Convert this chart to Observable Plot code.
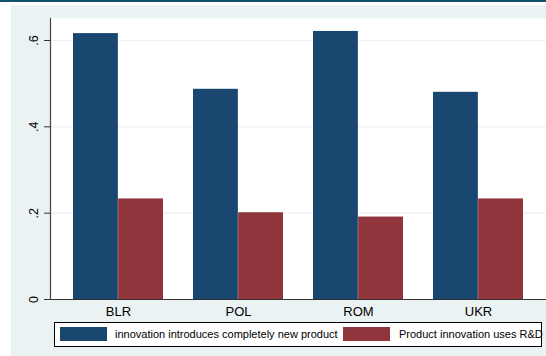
<!DOCTYPE html>
<html>
<head>
<meta charset="utf-8">
<script src="https://cdn.jsdelivr.net/npm/d3@7"></script>
<script src="https://cdn.jsdelivr.net/npm/@observablehq/plot@0.6"></script>
<style>
  html, body { margin: 0; padding: 0; background: white; }
  #wrap { position: relative; width: 546px; height: 356px; overflow: hidden; font-family: "Liberation Sans", Arial, Helvetica, sans-serif; }
  #topline { position: absolute; left: 0; top: 0; width: 546px; height: 2px; background: #12506f; }
  #bg { position: absolute; left: 11px; top: 5px; right: 0; bottom: 0; background: #eaf2f3; }
  #chart { position: absolute; left: 0; top: 0; }
  #legend { position: absolute; left: 54px; top: 322px; width: 488px; height: 25px; box-sizing: border-box; border: 1px solid #000; background: white; font-size: 11px; color: #000; }
  .sw { position: absolute; top: 4px; width: 47px; height: 14px; }
  .lt { position: absolute; top: 4px; line-height: 14px; white-space: nowrap; }
</style>
</head>
<body>
<div id="wrap">
  <div id="topline"></div>
  <div id="bg"></div>
  <div id="chart"></div>
  <div id="legend"></div>
</div>
<script>
const countries = ["BLR", "POL", "ROM", "UKR"];
const seriesNames = ["innovation introduces completely new product", "Product innovation uses R&D"];
const newProduct = [0.616, 0.487, 0.621, 0.480];
const usesRD = [0.233, 0.201, 0.191, 0.233];
const yTicks = [0, 0.2, 0.4, 0.6];
const colors = ["#1a476f", "#90353b"];

const W = 546, H = 320, mL = 50, mR = 0, mT = 18, mB = 21;
const padInner = 0.25, padOuter = 0.185;
const step = (W - mL - mR) / (countries.length - padInner + 2 * padOuter);
const half = step * (1 - padInner) / 2;

const rows1 = countries.map((c, i) => ({country: c, value: newProduct[i]}));
const rows2 = countries.map((c, i) => ({country: c, value: usesRD[i]}));

const plot = Plot.plot({
  width: W, height: H,
  marginLeft: mL, marginRight: mR, marginTop: mT, marginBottom: mB,
  style: {background: "transparent", fontFamily: "Liberation Sans, Arial, sans-serif"},
  x: {domain: countries, paddingInner: padInner, paddingOuter: padOuter, label: null},
  y: {domain: [0, 0.651], label: null},
  marks: [
    Plot.frame({fill: "white", stroke: null}),
    Plot.gridY(yTicks.filter(d => d > 0), {stroke: "#eaf2f3", strokeOpacity: 1, strokeWidth: 1.2}),
    Plot.barY(rows1, {x: "country", y: "value", fill: colors[0], insetRight: half}),
    Plot.barY(rows2, {x: "country", y: "value", fill: colors[1], insetLeft: half}),
    Plot.ruleY([0], {stroke: "#333", strokeWidth: 1.2}),
    Plot.frame({anchor: "left", stroke: "#444", strokeWidth: 1.2}),
    Plot.axisY({ticks: yTicks, tickSize: 6, tickRotate: -90, tickPadding: 7, fontSize: 12.5,
      tickFormat: d => d === 0 ? "0" : d3.format(".1f")(d).replace(/^0/, ""), stroke: "#333"}),
    Plot.axisX({tickSize: 0, tickPadding: 7, fontSize: 13})
  ]
});
document.getElementById("chart").appendChild(plot);

const legend = document.getElementById("legend");
const pos = [{sw: 5, tx: 60}, {sw: 288, tx: 344}];
seriesNames.forEach((name, i) => {
  const s = document.createElement("div");
  s.className = "sw"; s.style.left = pos[i].sw + "px"; s.style.background = colors[i];
  legend.appendChild(s);
  const t = document.createElement("div");
  t.className = "lt"; t.style.left = pos[i].tx + "px"; t.textContent = name;
  legend.appendChild(t);
});
</script>
</body>
</html>
